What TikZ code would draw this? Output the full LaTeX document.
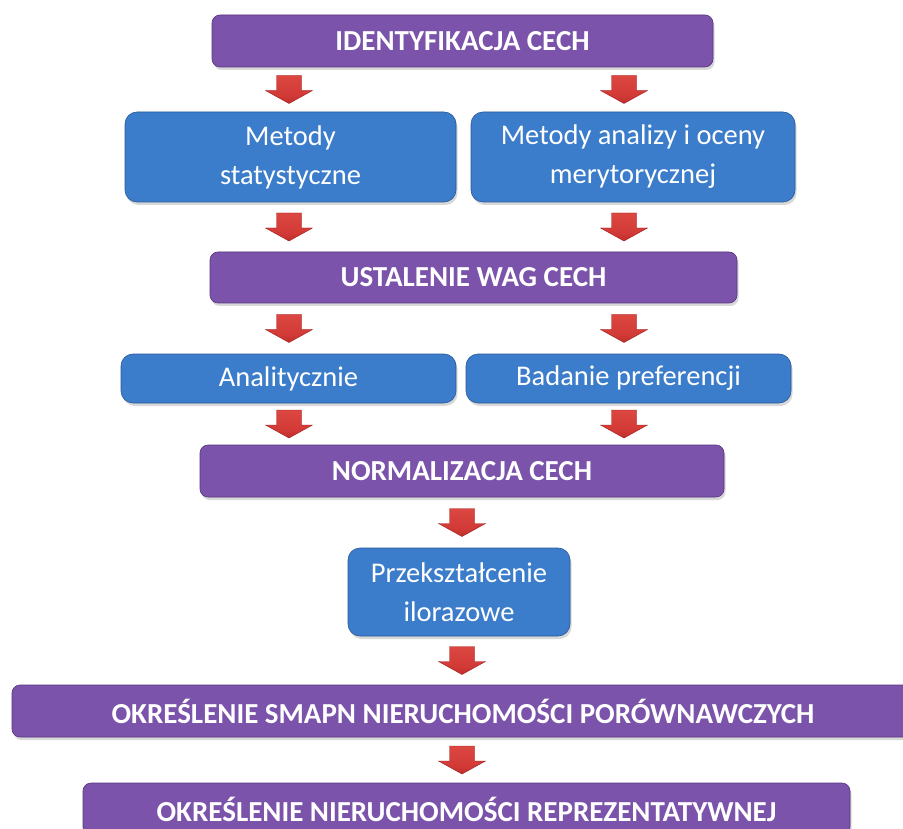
\documentclass[tikz,border=0pt]{standalone}
\usepackage{fontspec}
\setmainfont{Carlito}
\usetikzlibrary{shadows,calc}

\definecolor{purpleMain}{HTML}{7B53AA}
\definecolor{purpleTop}{HTML}{AE93D6}
\definecolor{purpleBot}{HTML}{553580}
\definecolor{blueMain}{HTML}{3B7CCB}
\definecolor{blueTop}{HTML}{7DB4F0}
\definecolor{blueBot}{HTML}{285A9A}
\definecolor{arrowTop}{HTML}{E2504A}
\definecolor{arrowMain}{HTML}{D23A36}
\definecolor{arrowBot}{HTML}{9E1C1C}

% glossy vertical fills: bright rim on top, flat body, dark rim at the bottom
\pgfdeclareverticalshading{purplegloss}{100bp}{%
  color(0bp)=(purpleBot); color(14bp)=(purpleMain); color(78bp)=(purpleMain);
  color(93bp)=(purpleTop); color(100bp)=(purpleTop)}
\pgfdeclareverticalshading{bluegloss}{100bp}{%
  color(0bp)=(blueBot); color(14bp)=(blueMain); color(80bp)=(blueMain);
  color(94bp)=(blueTop); color(100bp)=(blueTop)}
\pgfdeclareverticalshading{arrowgloss}{100bp}{%
  color(0bp)=(arrowBot); color(40bp)=(arrowMain); color(100bp)=(arrowTop)}

\tikzset{
  panel/.style={draw=#1Bot, line width=0.6pt, shading=#1gloss,
    drop shadow={opacity=0.30, shadow xshift=1.5pt, shadow yshift=-3pt},
    text=white, align=center, inner sep=0pt},
  stage/.style={panel=purple, rounded corners=8pt,
    font=\fontsize{29}{34}\selectfont\bfseries},
  method/.style={panel=blue, rounded corners=12pt,
    font=\fontsize{28.5}{39}\selectfont},
  redarrow/.pic={
    \path[shading=arrowgloss, draw=arrowBot, line width=0.4pt]
      (-12.5,-14) -- (12.5,-14) -- (12.5,1) -- (23.5,1) -- (0,14)
      -- (-23.5,1) -- (-12.5,1) -- cycle;
  }
}

% block arrow centred in the gap between two boxes, on a given column
\newcommand\gaparrow[3]{%
  \path let \p1=($(#1.south)!0.5!(#2.north)$), \p2=(#3) in
    pic at (\x2,\y1) {redarrow};}

\begin{document}
\begin{tikzpicture}[x=1pt,y=-1pt]
  \useasboundingbox[fill=white] (0,0) rectangle (903,829);

  \coordinate (colL) at (289,0);
  \coordinate (colR) at (624,0);
  \coordinate (colM) at (462,0);

  \node[stage,  minimum width=501pt, minimum height=52pt] (ident)   at (462.5,41)  {IDENTYFIKACJA CECH};
  \node[method, minimum width=331pt, minimum height=90pt] (metstat) at (290.5,157) {Metody\\statystyczne};
  \node[method, minimum width=324pt, minimum height=90pt] (metanal) at (633,157)   {Metody analizy i oceny\\merytorycznej};
  \node[stage,  minimum width=527pt, minimum height=51pt] (ustal)   at (473.5,277.5) {USTALENIE WAG CECH};
  \node[method, minimum width=335pt, minimum height=49pt] (anal)    at (288.5,378.5) {Analitycznie};
  \node[method, minimum width=325pt, minimum height=49pt] (badanie) at (628.5,378.5) {Badanie preferencji};
  \node[stage,  minimum width=524pt, minimum height=52pt] (norm)    at (462,471)   {NORMALIZACJA CECH};
  \node[method, minimum width=222pt, minimum height=88pt] (przeks)  at (459,592)   {Przekształcenie\\ilorazowe};
  \node[stage,  minimum width=902pt, minimum height=52pt] (smapn)   at (463,711)   {OKREŚLENIE SMAPN NIERUCHOMOŚCI PORÓWNAWCZYCH};
  \node[stage,  minimum width=767pt, minimum height=52pt] (repr)    at (466.5,809) {OKREŚLENIE NIERUCHOMOŚCI REPREZENTATYWNEJ};

  \gaparrow{ident}{metstat}{colL}
  \gaparrow{ident}{metanal}{colR}
  \gaparrow{metstat}{ustal}{colL}
  \gaparrow{metanal}{ustal}{colR}
  \gaparrow{ustal}{anal}{colL}
  \gaparrow{ustal}{badanie}{colR}
  \gaparrow{anal}{norm}{colL}
  \gaparrow{badanie}{norm}{colR}
  \gaparrow{norm}{przeks}{colM}
  \gaparrow{przeks}{smapn}{colM}
  \gaparrow{smapn}{repr}{colM}
\end{tikzpicture}
\end{document}
